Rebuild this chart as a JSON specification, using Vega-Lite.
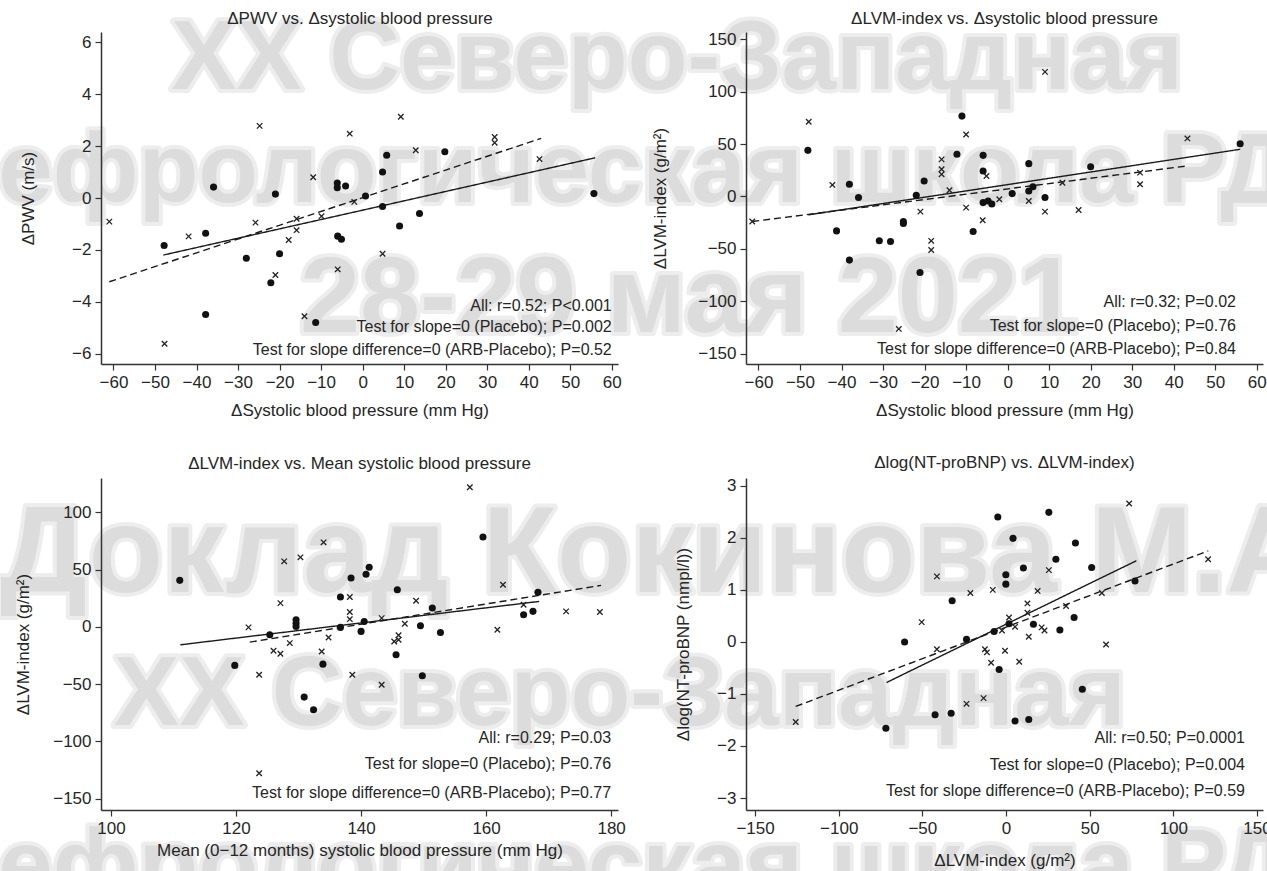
{
  "$schema": "https://vega.github.io/schema/vega-lite/v6.json",
  "background": "white",
  "padding": {"left": -61, "top": 9, "right": -100, "bottom": -46},
  "config": {
    "view": {"stroke": null},
    "font": "Liberation Sans",
    "title": {"font": "Liberation Sans", "fontSize": 17, "fontWeight": "normal", "color": "#262626", "offset": 2},
    "axis": {
      "grid": false,
      "domainColor": "#333333",
      "domainWidth": 1.5,
      "tickColor": "#333333",
      "tickWidth": 1.2,
      "tickSize": 6,
      "labelFont": "Liberation Sans",
      "labelFontSize": 17,
      "labelColor": "#262626",
      "labelPadding": 4,
      "labelFlush": false,
      "labelOverlap": false,
      "titleFont": "Liberation Sans",
      "titleFontSize": 17,
      "titleFontWeight": "normal",
      "titleColor": "#262626",
      "zindex": 1
    }
  },
  "datasets": {
    "points": [
      {"panel": "pwv", "group": "ARB", "x": -35.9, "y": 0.42},
      {"panel": "pwv", "group": "ARB", "x": -21.0, "y": 0.15},
      {"panel": "pwv", "group": "ARB", "x": -6.1, "y": 0.58},
      {"panel": "pwv", "group": "ARB", "x": -6.1, "y": 0.40},
      {"panel": "pwv", "group": "ARB", "x": -4.1, "y": 0.46},
      {"panel": "pwv", "group": "ARB", "x": 0.7, "y": 0.08},
      {"panel": "pwv", "group": "ARB", "x": 4.8, "y": 1.0},
      {"panel": "pwv", "group": "ARB", "x": 5.8, "y": 1.65},
      {"panel": "pwv", "group": "ARB", "x": 4.8, "y": -0.33},
      {"panel": "pwv", "group": "ARB", "x": 13.7, "y": -0.6},
      {"panel": "pwv", "group": "ARB", "x": 19.8, "y": 1.78},
      {"panel": "pwv", "group": "ARB", "x": 55.7, "y": 0.17},
      {"panel": "pwv", "group": "ARB", "x": -47.8, "y": -1.83},
      {"panel": "pwv", "group": "ARB", "x": -37.8, "y": -1.36},
      {"panel": "pwv", "group": "ARB", "x": -37.8, "y": -4.49},
      {"panel": "pwv", "group": "ARB", "x": -28.0, "y": -2.32},
      {"panel": "pwv", "group": "ARB", "x": -20.0, "y": -2.15},
      {"panel": "pwv", "group": "ARB", "x": -22.1, "y": -3.27},
      {"panel": "pwv", "group": "ARB", "x": -11.3, "y": -4.8},
      {"panel": "pwv", "group": "ARB", "x": -6.0, "y": -1.47},
      {"panel": "pwv", "group": "ARB", "x": -5.1, "y": -1.59},
      {"panel": "pwv", "group": "ARB", "x": 8.9, "y": -1.08},
      {"panel": "pwv", "group": "Placebo", "x": -24.8, "y": 2.78},
      {"panel": "pwv", "group": "Placebo", "x": -11.9, "y": 0.8},
      {"panel": "pwv", "group": "Placebo", "x": -3.1, "y": 2.48},
      {"panel": "pwv", "group": "Placebo", "x": 9.2, "y": 3.13},
      {"panel": "pwv", "group": "Placebo", "x": 12.8, "y": 1.84},
      {"panel": "pwv", "group": "Placebo", "x": 31.8, "y": 2.35},
      {"panel": "pwv", "group": "Placebo", "x": 31.8, "y": 2.13},
      {"panel": "pwv", "group": "Placebo", "x": 42.6, "y": 1.5},
      {"panel": "pwv", "group": "Placebo", "x": -2.0, "y": -0.15},
      {"panel": "pwv", "group": "Placebo", "x": -61.0, "y": -0.91},
      {"panel": "pwv", "group": "Placebo", "x": -41.9, "y": -1.48},
      {"panel": "pwv", "group": "Placebo", "x": -25.8, "y": -0.95},
      {"panel": "pwv", "group": "Placebo", "x": -15.9, "y": -0.8},
      {"panel": "pwv", "group": "Placebo", "x": -9.9, "y": -0.7},
      {"panel": "pwv", "group": "Placebo", "x": -17.8, "y": -1.62},
      {"panel": "pwv", "group": "Placebo", "x": -15.9, "y": -1.24},
      {"panel": "pwv", "group": "Placebo", "x": -21.0, "y": -2.97},
      {"panel": "pwv", "group": "Placebo", "x": -6.0, "y": -2.75},
      {"panel": "pwv", "group": "Placebo", "x": 4.8, "y": -2.15},
      {"panel": "pwv", "group": "Placebo", "x": -14.0, "y": -4.56},
      {"panel": "pwv", "group": "Placebo", "x": -47.7, "y": -5.62},

      {"panel": "lvm_sbp", "group": "ARB", "x": -48.1, "y": 44},
      {"panel": "lvm_sbp", "group": "ARB", "x": -38.1, "y": 11.6},
      {"panel": "lvm_sbp", "group": "ARB", "x": -35.9, "y": -1.1},
      {"panel": "lvm_sbp", "group": "ARB", "x": -20.1, "y": 14.8},
      {"panel": "lvm_sbp", "group": "ARB", "x": -22.0, "y": 1.1},
      {"panel": "lvm_sbp", "group": "ARB", "x": -11.0, "y": 76.7},
      {"panel": "lvm_sbp", "group": "ARB", "x": -12.2, "y": 40.2},
      {"panel": "lvm_sbp", "group": "ARB", "x": -5.9, "y": 39.2},
      {"panel": "lvm_sbp", "group": "ARB", "x": -5.9, "y": 24.3},
      {"panel": "lvm_sbp", "group": "ARB", "x": -5.9, "y": -5.9},
      {"panel": "lvm_sbp", "group": "ARB", "x": -4.7, "y": -4.3},
      {"panel": "lvm_sbp", "group": "ARB", "x": -3.8, "y": -7.2},
      {"panel": "lvm_sbp", "group": "ARB", "x": 1.1, "y": 2.7},
      {"panel": "lvm_sbp", "group": "ARB", "x": 5.1, "y": 31.3},
      {"panel": "lvm_sbp", "group": "ARB", "x": 5.1, "y": 5.2},
      {"panel": "lvm_sbp", "group": "ARB", "x": 6.1, "y": 9.3},
      {"panel": "lvm_sbp", "group": "ARB", "x": 9.0, "y": -1.1},
      {"panel": "lvm_sbp", "group": "ARB", "x": 20.0, "y": 28.4},
      {"panel": "lvm_sbp", "group": "ARB", "x": 56.0, "y": 50.3},
      {"panel": "lvm_sbp", "group": "ARB", "x": -41.2, "y": -32.9},
      {"panel": "lvm_sbp", "group": "ARB", "x": -38.1, "y": -60.8},
      {"panel": "lvm_sbp", "group": "ARB", "x": -30.9, "y": -42.4},
      {"panel": "lvm_sbp", "group": "ARB", "x": -28.2, "y": -43},
      {"panel": "lvm_sbp", "group": "ARB", "x": -25.1, "y": -24},
      {"panel": "lvm_sbp", "group": "ARB", "x": -25.1, "y": -25.9},
      {"panel": "lvm_sbp", "group": "ARB", "x": -21.1, "y": -72.6},
      {"panel": "lvm_sbp", "group": "ARB", "x": -8.3, "y": -33.5},
      {"panel": "lvm_sbp", "group": "Placebo", "x": -47.9, "y": 71.3},
      {"panel": "lvm_sbp", "group": "Placebo", "x": -42.2, "y": 11},
      {"panel": "lvm_sbp", "group": "Placebo", "x": -15.9, "y": 35.4},
      {"panel": "lvm_sbp", "group": "Placebo", "x": -15.9, "y": 25.9},
      {"panel": "lvm_sbp", "group": "Placebo", "x": -15.9, "y": 21.1},
      {"panel": "lvm_sbp", "group": "Placebo", "x": -14.0, "y": 5.9},
      {"panel": "lvm_sbp", "group": "Placebo", "x": -10.0, "y": 59.2},
      {"panel": "lvm_sbp", "group": "Placebo", "x": -5.1, "y": 19.5},
      {"panel": "lvm_sbp", "group": "Placebo", "x": -10.0, "y": -10.7},
      {"panel": "lvm_sbp", "group": "Placebo", "x": -21.0, "y": -14.5},
      {"panel": "lvm_sbp", "group": "Placebo", "x": -2.0, "y": -2.7},
      {"panel": "lvm_sbp", "group": "Placebo", "x": 5.1, "y": -4.3},
      {"panel": "lvm_sbp", "group": "Placebo", "x": 9.0, "y": 118.9},
      {"panel": "lvm_sbp", "group": "Placebo", "x": 9.0, "y": -14.5},
      {"panel": "lvm_sbp", "group": "Placebo", "x": 17.1, "y": -12.9},
      {"panel": "lvm_sbp", "group": "Placebo", "x": 31.9, "y": 22.7},
      {"panel": "lvm_sbp", "group": "Placebo", "x": 31.9, "y": 11.6},
      {"panel": "lvm_sbp", "group": "Placebo", "x": 43.3, "y": 55.4},
      {"panel": "lvm_sbp", "group": "Placebo", "x": 13.2, "y": 13.1},
      {"panel": "lvm_sbp", "group": "Placebo", "x": -61.5, "y": -24},
      {"panel": "lvm_sbp", "group": "Placebo", "x": -18.4, "y": -42.4},
      {"panel": "lvm_sbp", "group": "Placebo", "x": -18.4, "y": -51.2},
      {"panel": "lvm_sbp", "group": "Placebo", "x": -26.2, "y": -126.5},
      {"panel": "lvm_sbp", "group": "Placebo", "x": -6.0, "y": -22.7},

      {"panel": "lvm_mean", "group": "ARB", "x": 111.0, "y": 40.6},
      {"panel": "lvm_mean", "group": "ARB", "x": 125.4, "y": -6.9},
      {"panel": "lvm_mean", "group": "ARB", "x": 129.6, "y": 6.2},
      {"panel": "lvm_mean", "group": "ARB", "x": 129.6, "y": 3.2},
      {"panel": "lvm_mean", "group": "ARB", "x": 129.6, "y": 0.3},
      {"panel": "lvm_mean", "group": "ARB", "x": 136.7, "y": 26},
      {"panel": "lvm_mean", "group": "ARB", "x": 138.4, "y": 42.6},
      {"panel": "lvm_mean", "group": "ARB", "x": 136.7, "y": -0.5},
      {"panel": "lvm_mean", "group": "ARB", "x": 140.0, "y": -4},
      {"panel": "lvm_mean", "group": "ARB", "x": 140.5, "y": 4.7},
      {"panel": "lvm_mean", "group": "ARB", "x": 140.8, "y": 46},
      {"panel": "lvm_mean", "group": "ARB", "x": 141.3, "y": 52},
      {"panel": "lvm_mean", "group": "ARB", "x": 145.8, "y": 32.4},
      {"panel": "lvm_mean", "group": "ARB", "x": 149.5, "y": 0.9},
      {"panel": "lvm_mean", "group": "ARB", "x": 151.4, "y": 16.4},
      {"panel": "lvm_mean", "group": "ARB", "x": 152.7, "y": -4.9},
      {"panel": "lvm_mean", "group": "ARB", "x": 159.5, "y": 78.4},
      {"panel": "lvm_mean", "group": "ARB", "x": 166.0, "y": 10.6},
      {"panel": "lvm_mean", "group": "ARB", "x": 167.5, "y": 13.5},
      {"panel": "lvm_mean", "group": "ARB", "x": 168.3, "y": 30.1},
      {"panel": "lvm_mean", "group": "ARB", "x": 119.8, "y": -33.7},
      {"panel": "lvm_mean", "group": "ARB", "x": 130.9, "y": -61.4},
      {"panel": "lvm_mean", "group": "ARB", "x": 132.4, "y": -72.5},
      {"panel": "lvm_mean", "group": "ARB", "x": 133.9, "y": -32.6},
      {"panel": "lvm_mean", "group": "ARB", "x": 145.6, "y": -24.4},
      {"panel": "lvm_mean", "group": "ARB", "x": 149.8, "y": -42.7},
      {"panel": "lvm_mean", "group": "Placebo", "x": 122.0, "y": -0.5},
      {"panel": "lvm_mean", "group": "Placebo", "x": 127.1, "y": 20.7},
      {"panel": "lvm_mean", "group": "Placebo", "x": 127.7, "y": 57.2},
      {"panel": "lvm_mean", "group": "Placebo", "x": 130.3, "y": 60.7},
      {"panel": "lvm_mean", "group": "Placebo", "x": 134.0, "y": 73.8},
      {"panel": "lvm_mean", "group": "Placebo", "x": 138.2, "y": 26},
      {"panel": "lvm_mean", "group": "Placebo", "x": 138.2, "y": 12.9},
      {"panel": "lvm_mean", "group": "Placebo", "x": 138.2, "y": 6.7},
      {"panel": "lvm_mean", "group": "Placebo", "x": 128.6, "y": -14.2},
      {"panel": "lvm_mean", "group": "Placebo", "x": 134.8, "y": -9.3},
      {"panel": "lvm_mean", "group": "Placebo", "x": 143.3, "y": 7.6},
      {"panel": "lvm_mean", "group": "Placebo", "x": 147.0, "y": 2.7},
      {"panel": "lvm_mean", "group": "Placebo", "x": 148.8, "y": 22.8},
      {"panel": "lvm_mean", "group": "Placebo", "x": 157.4, "y": 121.9},
      {"panel": "lvm_mean", "group": "Placebo", "x": 162.7, "y": 36.8},
      {"panel": "lvm_mean", "group": "Placebo", "x": 161.8, "y": -2.5},
      {"panel": "lvm_mean", "group": "Placebo", "x": 172.8, "y": 13.5},
      {"panel": "lvm_mean", "group": "Placebo", "x": 178.2, "y": 12.9},
      {"panel": "lvm_mean", "group": "Placebo", "x": 166.0, "y": 19.3},
      {"panel": "lvm_mean", "group": "Placebo", "x": 145.3, "y": -12.8},
      {"panel": "lvm_mean", "group": "Placebo", "x": 146.0, "y": -11.3},
      {"panel": "lvm_mean", "group": "Placebo", "x": 146.0, "y": -7.3},
      {"panel": "lvm_mean", "group": "Placebo", "x": 123.7, "y": -41.9},
      {"panel": "lvm_mean", "group": "Placebo", "x": 123.7, "y": -127.9},
      {"panel": "lvm_mean", "group": "Placebo", "x": 126.0, "y": -20.9},
      {"panel": "lvm_mean", "group": "Placebo", "x": 127.1, "y": -23.5},
      {"panel": "lvm_mean", "group": "Placebo", "x": 133.7, "y": -21.5},
      {"panel": "lvm_mean", "group": "Placebo", "x": 138.6, "y": -41.9},
      {"panel": "lvm_mean", "group": "Placebo", "x": 143.3, "y": -50.6},

      {"panel": "bnp", "group": "ARB", "x": -60.6, "y": 0.0},
      {"panel": "bnp", "group": "ARB", "x": -32.2, "y": 0.79},
      {"panel": "bnp", "group": "ARB", "x": -23.6, "y": 0.05},
      {"panel": "bnp", "group": "ARB", "x": -7.1, "y": 0.2},
      {"panel": "bnp", "group": "ARB", "x": -4.9, "y": 2.4},
      {"panel": "bnp", "group": "ARB", "x": -0.1, "y": 1.11},
      {"panel": "bnp", "group": "ARB", "x": -0.1, "y": 1.29},
      {"panel": "bnp", "group": "ARB", "x": 4.2, "y": 1.99},
      {"panel": "bnp", "group": "ARB", "x": 10.4, "y": 1.42},
      {"panel": "bnp", "group": "ARB", "x": 1.8, "y": 0.35},
      {"panel": "bnp", "group": "ARB", "x": 16.4, "y": 0.34},
      {"panel": "bnp", "group": "ARB", "x": 25.6, "y": 2.49},
      {"panel": "bnp", "group": "ARB", "x": 29.8, "y": 1.59},
      {"panel": "bnp", "group": "ARB", "x": 32.2, "y": 0.23},
      {"panel": "bnp", "group": "ARB", "x": 40.7, "y": 0.47},
      {"panel": "bnp", "group": "ARB", "x": 41.5, "y": 1.9},
      {"panel": "bnp", "group": "ARB", "x": 51.2, "y": 1.43},
      {"panel": "bnp", "group": "ARB", "x": 77.1, "y": 1.17},
      {"panel": "bnp", "group": "ARB", "x": -4.1, "y": -0.53},
      {"panel": "bnp", "group": "ARB", "x": -42.4, "y": -1.4},
      {"panel": "bnp", "group": "ARB", "x": -32.8, "y": -1.37},
      {"panel": "bnp", "group": "ARB", "x": -71.8, "y": -1.66},
      {"panel": "bnp", "group": "ARB", "x": 5.4, "y": -1.52},
      {"panel": "bnp", "group": "ARB", "x": 13.6, "y": -1.49},
      {"panel": "bnp", "group": "ARB", "x": 45.6, "y": -0.91},
      {"panel": "bnp", "group": "Placebo", "x": -41.3, "y": 1.26},
      {"panel": "bnp", "group": "Placebo", "x": -50.4, "y": 0.38},
      {"panel": "bnp", "group": "Placebo", "x": -21.3, "y": 0.94},
      {"panel": "bnp", "group": "Placebo", "x": -7.9, "y": 1.0},
      {"panel": "bnp", "group": "Placebo", "x": 18.9, "y": 0.98},
      {"panel": "bnp", "group": "Placebo", "x": 12.8, "y": 0.74},
      {"panel": "bnp", "group": "Placebo", "x": 12.8, "y": 0.56},
      {"panel": "bnp", "group": "Placebo", "x": 25.6, "y": 1.38},
      {"panel": "bnp", "group": "Placebo", "x": 1.8, "y": 0.47},
      {"panel": "bnp", "group": "Placebo", "x": -2.4, "y": 0.22},
      {"panel": "bnp", "group": "Placebo", "x": 5.4, "y": 0.29},
      {"panel": "bnp", "group": "Placebo", "x": 21.3, "y": 0.28},
      {"panel": "bnp", "group": "Placebo", "x": 23.0, "y": 0.22},
      {"panel": "bnp", "group": "Placebo", "x": 13.6, "y": 0.1},
      {"panel": "bnp", "group": "Placebo", "x": 35.9, "y": 0.69},
      {"panel": "bnp", "group": "Placebo", "x": 57.3, "y": 0.94},
      {"panel": "bnp", "group": "Placebo", "x": 73.6, "y": 2.66},
      {"panel": "bnp", "group": "Placebo", "x": 120.8, "y": 1.59},
      {"panel": "bnp", "group": "Placebo", "x": 59.8, "y": -0.05},
      {"panel": "bnp", "group": "Placebo", "x": -125.7, "y": -1.54},
      {"panel": "bnp", "group": "Placebo", "x": -41.3, "y": -0.14},
      {"panel": "bnp", "group": "Placebo", "x": -12.6, "y": -0.14},
      {"panel": "bnp", "group": "Placebo", "x": -11.4, "y": -0.2},
      {"panel": "bnp", "group": "Placebo", "x": -0.6, "y": -0.17},
      {"panel": "bnp", "group": "Placebo", "x": -8.9, "y": -0.4},
      {"panel": "bnp", "group": "Placebo", "x": 7.9, "y": -0.38},
      {"panel": "bnp", "group": "Placebo", "x": -23.6, "y": -1.19},
      {"panel": "bnp", "group": "Placebo", "x": -13.4, "y": -1.08}
    ],
    "fits": [
      {"panel": "pwv", "group": "ARB", "x": -48.0, "y": -2.2},
      {"panel": "pwv", "group": "ARB", "x": 56.0, "y": 1.55},
      {"panel": "pwv", "group": "Placebo", "x": -61.0, "y": -3.23},
      {"panel": "pwv", "group": "Placebo", "x": 43.0, "y": 2.3},
      {"panel": "lvm_sbp", "group": "ARB", "x": -48.0, "y": -17.6},
      {"panel": "lvm_sbp", "group": "ARB", "x": 56.0, "y": 45},
      {"panel": "lvm_sbp", "group": "Placebo", "x": -61.5, "y": -24},
      {"panel": "lvm_sbp", "group": "Placebo", "x": 43.0, "y": 29},
      {"panel": "lvm_mean", "group": "ARB", "x": 111.1, "y": -15.7},
      {"panel": "lvm_mean", "group": "ARB", "x": 168.5, "y": 22.2},
      {"panel": "lvm_mean", "group": "Placebo", "x": 122.2, "y": -13.4},
      {"panel": "lvm_mean", "group": "Placebo", "x": 178.4, "y": 36.2},
      {"panel": "bnp", "group": "ARB", "x": -71.4, "y": -0.78},
      {"panel": "bnp", "group": "ARB", "x": 77.9, "y": 1.56},
      {"panel": "bnp", "group": "Placebo", "x": -125.7, "y": -1.24},
      {"panel": "bnp", "group": "Placebo", "x": 120.9, "y": 1.75}
    ],
    "notes": [
      {"panel": "pwv", "note": "All: r=0.52; P<0.001", "x": 60.0, "y": -4.16},
      {"panel": "pwv", "note": "Test for slope=0 (Placebo); P=0.002", "x": 60.0, "y": -4.97},
      {"panel": "pwv", "note": "Test for slope difference=0 (ARB-Placebo); P=0.52", "x": 60.0, "y": -5.86},
      {"panel": "lvm_sbp", "note": "All: r=0.32; P=0.02", "x": 55.0, "y": -101.2},
      {"panel": "lvm_sbp", "note": "Test for slope=0 (Placebo); P=0.76", "x": 55.0, "y": -124.1},
      {"panel": "lvm_sbp", "note": "Test for slope difference=0 (ARB-Placebo); P=0.84", "x": 55.0, "y": -146.1},
      {"panel": "lvm_mean", "note": "All: r=0.29; P=0.03", "x": 180.0, "y": -97.1},
      {"panel": "lvm_mean", "note": "Test for slope=0 (Placebo); P=0.76", "x": 180.0, "y": -119.8},
      {"panel": "lvm_mean", "note": "Test for slope difference=0 (ARB-Placebo); P=0.77", "x": 180.0, "y": -145.2},
      {"panel": "bnp", "note": "All: r=0.50; P=0.0001", "x": 142.8, "y": -1.85},
      {"panel": "bnp", "note": "Test for slope=0 (Placebo); P=0.004", "x": 142.8, "y": -2.37},
      {"panel": "bnp", "note": "Test for slope difference=0 (ARB-Placebo); P=0.59", "x": 142.8, "y": -2.87}
    ],
    "watermark": [
      {"label": "XX Северо-Западная", "x": -46.1, "y": 4.2},
      {"label": "нефрологическая школа РДО", "x": -102.0, "y": -0.15},
      {"label": "XX Северо-Западная", "x": -59.9, "y": -20.32},
      {"label": "нефрологическая школа РДО", "x": -102.0, "y": -26.99}
    ],
    "watermark_date": [
      {"label": "28-29 мая 2021", "x": -15.1, "y": -5.17}
    ],
    "watermark_large": [
      {"label": "Доклад Кокинова М.А.", "x": -87.3, "y": -15.19}
    ]
  },
  "columns": 2,
  "spacing": {"row": 114, "column": 128},
  "bounds": "flush",
  "concat": [
    {
      "width": 517,
      "height": 332,
      "encoding": {
        "y": {"field": "y", "type": "quantitative",
              "scale": {"domain": [-6.4, 6.4], "nice": false, "zero": false},
              "axis": {"title": "ΔPWV (m/s)", "values": [-6, -4, -2, 0, 2, 4, 6], "titlePadding": 34, "zindex": 1}}
      },
      "layer": [
        {
          "encoding": {
            "x": {"field": "x", "type": "quantitative",
                  "scale": {"domain": [-63, 61.5], "nice": false, "zero": false},
                  "axis": {"title": "ΔSystolic blood pressure (mm Hg)", "values": [-60, -50, -40, -30, -20, -10, 0, 10, 20, 30, 40, 50, 60], "titlePadding": 12, "zindex": 1}}
          },
          "layer": [
            {
              "data": {"name": "watermark"},
              "mark": {"type": "text", "align": "left", "baseline": "alphabetic", "font": "Liberation Sans", "fontWeight": "bold", "fontSize": 98, "fill": "#ededed", "stroke": "#ededed", "strokeWidth": 8, "strokeJoin": "round"},
              "encoding": {"text": {"field": "label"}}
            },
            {
              "data": {"name": "watermark"},
              "mark": {"type": "text", "align": "left", "baseline": "alphabetic", "font": "Liberation Sans", "fontWeight": "bold", "fontSize": 98, "fill": "#dcdcdc"},
              "encoding": {"text": {"field": "label"}}
            },
            {
              "data": {"name": "watermark_date"},
              "mark": {"type": "text", "align": "left", "baseline": "alphabetic", "font": "Liberation Sans", "fontWeight": "bold", "fontSize": 108, "fill": "#ededed", "stroke": "#ededed", "strokeWidth": 8, "strokeJoin": "round"},
              "encoding": {"text": {"field": "label"}}
            },
            {
              "data": {"name": "watermark_date"},
              "mark": {"type": "text", "align": "left", "baseline": "alphabetic", "font": "Liberation Sans", "fontWeight": "bold", "fontSize": 108, "fill": "#dcdcdc"},
              "encoding": {"text": {"field": "label"}}
            },
            {
              "data": {"name": "watermark_large"},
              "mark": {"type": "text", "align": "left", "baseline": "alphabetic", "font": "Liberation Sans", "fontWeight": "bold", "fontSize": 122, "fill": "#ededed", "stroke": "#ededed", "strokeWidth": 8, "strokeJoin": "round"},
              "encoding": {"text": {"field": "label"}}
            },
            {
              "data": {"name": "watermark_large"},
              "mark": {"type": "text", "align": "left", "baseline": "alphabetic", "font": "Liberation Sans", "fontWeight": "bold", "fontSize": 122, "fill": "#dcdcdc"},
              "encoding": {"text": {"field": "label"}}
            },
            {
              "data": {"name": "fits"},
              "transform": [{"filter": "datum.panel === 'pwv'"}],
              "mark": {"type": "line", "color": "#1a1a1a", "strokeWidth": 1.4},
              "encoding": {"strokeDash": {"field": "group", "type": "nominal", "scale": {"domain": ["ARB", "Placebo"], "range": [[1, 0], [7, 4]]}, "legend": null}}
            },
            {
              "data": {"name": "points"},
              "transform": [{"filter": "datum.panel === 'pwv' && datum.group === 'ARB'"}],
              "mark": {"type": "point", "shape": "circle", "filled": true, "size": 50, "color": "#111111", "opacity": 1}
            },
            {
              "data": {"name": "points"},
              "transform": [{"filter": "datum.panel === 'pwv' && datum.group === 'Placebo'"}],
              "mark": {"type": "point", "shape": "M-1,-1L1,1M-1,1L1,-1", "filled": false, "size": 30, "stroke": "#222222", "strokeWidth": 1.3, "opacity": 1}
            }
          ]
        },
        {
          "data": {"name": "notes"},
          "transform": [{"filter": "datum.panel === 'pwv'"}],
          "mark": {"type": "text", "align": "right", "baseline": "middle", "font": "Liberation Sans", "fontSize": 16, "color": "#262626"},
          "encoding": {
            "x": {"field": "x", "type": "quantitative",
                  "scale": {"domain": [-63, 61.5], "nice": false, "zero": false},
                  "axis": {"orient": "top", "domain": false, "ticks": false, "labels": false, "title": "ΔPWV vs. Δsystolic blood pressure", "titlePadding": 5, "zindex": 1}},
            "text": {"field": "note"}
          }
        }
      ],
      "resolve": {"axis": {"x": "independent"}}
    },
    {
      "width": 517,
      "height": 332,
      "title": {"text": "ΔLVM-index vs. Δsystolic blood pressure"},
      "encoding": {
        "x": {"field": "x", "type": "quantitative",
              "scale": {"domain": [-63, 61.5], "nice": false, "zero": false},
              "axis": {"title": "ΔSystolic blood pressure (mm Hg)", "values": [-60, -50, -40, -30, -20, -10, 0, 10, 20, 30, 40, 50, 60], "titlePadding": 12, "zindex": 1}},
        "y": {"field": "y", "type": "quantitative",
              "scale": {"domain": [-160, 157], "nice": false, "zero": false},
              "axis": {"title": "ΔLVM-index (g/m²)", "values": [-150, -100, -50, 0, 50, 100, 150], "titlePadding": 28, "zindex": 1}}
      },
      "layer": [
        {
          "data": {"name": "fits"},
          "transform": [{"filter": "datum.panel === 'lvm_sbp'"}],
          "mark": {"type": "line", "color": "#1a1a1a", "strokeWidth": 1.4},
          "encoding": {"strokeDash": {"field": "group", "type": "nominal", "scale": {"domain": ["ARB", "Placebo"], "range": [[1, 0], [7, 4]]}, "legend": null}}
        },
        {
          "data": {"name": "points"},
          "transform": [{"filter": "datum.panel === 'lvm_sbp' && datum.group === 'ARB'"}],
          "mark": {"type": "point", "shape": "circle", "filled": true, "size": 50, "color": "#111111", "opacity": 1}
        },
        {
          "data": {"name": "points"},
          "transform": [{"filter": "datum.panel === 'lvm_sbp' && datum.group === 'Placebo'"}],
          "mark": {"type": "point", "shape": "M-1,-1L1,1M-1,1L1,-1", "filled": false, "size": 30, "stroke": "#222222", "strokeWidth": 1.3, "opacity": 1}
        },
        {
          "data": {"name": "notes"},
          "transform": [{"filter": "datum.panel === 'lvm_sbp'"}],
          "mark": {"type": "text", "align": "right", "baseline": "middle", "font": "Liberation Sans", "fontSize": 16, "color": "#262626"},
          "encoding": {"text": {"field": "note"}}
        }
      ]
    },
    {
      "width": 517,
      "height": 332,
      "title": {"text": "ΔLVM-index vs. Mean systolic blood pressure", "offset": 5},
      "encoding": {
        "x": {"field": "x", "type": "quantitative",
              "scale": {"domain": [98.4, 181.1], "nice": false, "zero": false},
              "axis": {"title": "Mean (0−12 months) systolic blood pressure (mm Hg)", "values": [100, 120, 140, 160, 180], "titlePadding": 6, "zindex": 1}},
        "y": {"field": "y", "type": "quantitative",
              "scale": {"domain": [-160, 130], "nice": false, "zero": false},
              "axis": {"title": "ΔLVM-index (g/m²)", "values": [-150, -100, -50, 0, 50, 100], "titlePadding": 20, "zindex": 1}}
      },
      "layer": [
        {
          "data": {"name": "fits"},
          "transform": [{"filter": "datum.panel === 'lvm_mean'"}],
          "mark": {"type": "line", "color": "#1a1a1a", "strokeWidth": 1.4},
          "encoding": {"strokeDash": {"field": "group", "type": "nominal", "scale": {"domain": ["ARB", "Placebo"], "range": [[1, 0], [7, 4]]}, "legend": null}}
        },
        {
          "data": {"name": "points"},
          "transform": [{"filter": "datum.panel === 'lvm_mean' && datum.group === 'ARB'"}],
          "mark": {"type": "point", "shape": "circle", "filled": true, "size": 50, "color": "#111111", "opacity": 1}
        },
        {
          "data": {"name": "points"},
          "transform": [{"filter": "datum.panel === 'lvm_mean' && datum.group === 'Placebo'"}],
          "mark": {"type": "point", "shape": "M-1,-1L1,1M-1,1L1,-1", "filled": false, "size": 30, "stroke": "#222222", "strokeWidth": 1.3, "opacity": 1}
        },
        {
          "data": {"name": "notes"},
          "transform": [{"filter": "datum.panel === 'lvm_mean'"}],
          "mark": {"type": "text", "align": "right", "baseline": "middle", "font": "Liberation Sans", "fontSize": 16, "color": "#262626"},
          "encoding": {"text": {"field": "note"}}
        }
      ]
    },
    {
      "width": 517,
      "height": 332,
      "title": {"text": "Δlog(NT-proBNP) vs. ΔLVM-index)", "offset": 5},
      "encoding": {
        "x": {"field": "x", "type": "quantitative",
              "scale": {"domain": [-155.4, 153.6], "nice": false, "zero": false},
              "axis": {"title": "ΔLVM-index (g/m²)", "values": [-150, -100, -50, 0, 50, 100, 150], "titlePadding": 16, "zindex": 1}},
        "y": {"field": "y", "type": "quantitative",
              "scale": {"domain": [-3.23, 3.15], "nice": false, "zero": false},
              "axis": {"title": "Δlog(NT-proBNP (nmpl/l))", "values": [-3, -2, -1, 0, 1, 2, 3], "titlePadding": 24, "zindex": 1}}
      },
      "layer": [
        {
          "data": {"name": "fits"},
          "transform": [{"filter": "datum.panel === 'bnp'"}],
          "mark": {"type": "line", "color": "#1a1a1a", "strokeWidth": 1.4},
          "encoding": {"strokeDash": {"field": "group", "type": "nominal", "scale": {"domain": ["ARB", "Placebo"], "range": [[1, 0], [7, 4]]}, "legend": null}}
        },
        {
          "data": {"name": "points"},
          "transform": [{"filter": "datum.panel === 'bnp' && datum.group === 'ARB'"}],
          "mark": {"type": "point", "shape": "circle", "filled": true, "size": 50, "color": "#111111", "opacity": 1}
        },
        {
          "data": {"name": "points"},
          "transform": [{"filter": "datum.panel === 'bnp' && datum.group === 'Placebo'"}],
          "mark": {"type": "point", "shape": "M-1,-1L1,1M-1,1L1,-1", "filled": false, "size": 30, "stroke": "#222222", "strokeWidth": 1.3, "opacity": 1}
        },
        {
          "data": {"name": "notes"},
          "transform": [{"filter": "datum.panel === 'bnp'"}],
          "mark": {"type": "text", "align": "right", "baseline": "middle", "font": "Liberation Sans", "fontSize": 16, "color": "#262626"},
          "encoding": {"text": {"field": "note"}}
        }
      ]
    }
  ]
}
